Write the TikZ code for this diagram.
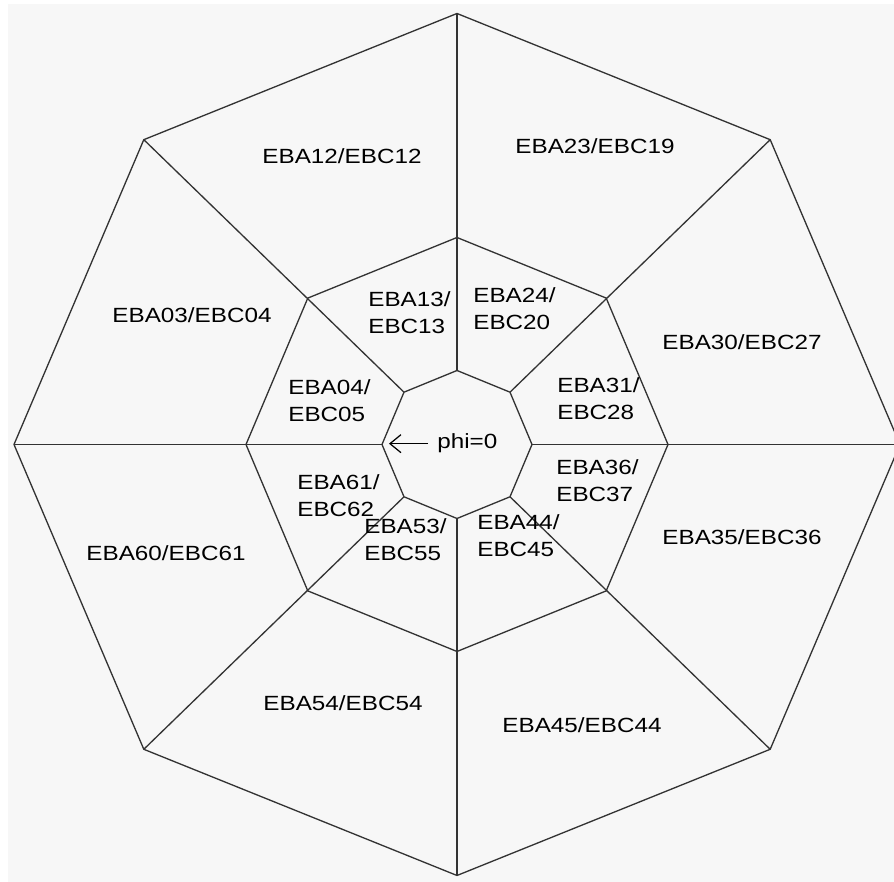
\documentclass[tikz,border=0pt]{standalone}
\usepackage{fontspec}
\setmainfont{Liberation Sans}[FakeStretch=1.18]
\usetikzlibrary{arrows.meta}

\begin{document}
\begin{tikzpicture}[x=0.02cm,y=0.02cm,
  cell/.style={draw=black!80,line width=0.75pt,line join=miter},
  lbl/.style={inner sep=0pt,font=\fontsize{11.7pt}{15.3pt}\selectfont},
  lbltwo/.style={lbl,align=left,anchor=west},
  arr/.style={-{Straight Barb[length=2.2mm,width=3.6mm]},line width=0.7pt}]
\useasboundingbox (0,0) rectangle (894,882);
\fill[white] (0,0) rectangle (894,882);
\fill[black!3] (8,0) rectangle (894,878);
\clip (0,0) rectangle (894,882);
\begin{scope}[shift={(457,437.5)}]
  \coordinate (o0) at (443,0);
  \coordinate (o45) at (313.2,304.8);
  \coordinate (o90) at (0,431);
  \coordinate (o135) at (-313.2,304.8);
  \coordinate (o180) at (-443,0);
  \coordinate (o225) at (-313.2,-304.8);
  \coordinate (o270) at (0,-431);
  \coordinate (o315) at (313.2,-304.8);
  \coordinate (m0) at (211,0);
  \coordinate (m45) at (149.2,146.4);
  \coordinate (m90) at (0,207);
  \coordinate (m135) at (-149.2,146.4);
  \coordinate (m180) at (-211,0);
  \coordinate (m225) at (-149.2,-146.4);
  \coordinate (m270) at (0,-207);
  \coordinate (m315) at (149.2,-146.4);
  \coordinate (i0) at (75,0);
  \coordinate (i45) at (53,52.3);
  \coordinate (i90) at (0,74);
  \coordinate (i135) at (-53,52.3);
  \coordinate (i180) at (-75,0);
  \coordinate (i225) at (-53,-52.3);
  \coordinate (i270) at (0,-74);
  \coordinate (i315) at (53,-52.3);
\end{scope}
\draw[cell] (o0) -- (o45) -- (o90) -- (o135) -- (o180) -- (o225) -- (o270) -- (o315) -- cycle;
\draw[cell] (m0) -- (m45) -- (m90) -- (m135) -- (m180) -- (m225) -- (m270) -- (m315) -- cycle;
\draw[cell] (i0) -- (i45) -- (i90) -- (i135) -- (i180) -- (i225) -- (i270) -- (i315) -- cycle;
\draw[cell] (i0) -- (o0);
\draw[cell] (i45) -- (o45);
\draw[cell] (i90) -- (o90);
\draw[cell] (i135) -- (o135);
\draw[cell] (i180) -- (o180);
\draw[cell] (i225) -- (o225);
\draw[cell] (i270) -- (o270);
\draw[cell] (i315) -- (o315);
\node[lbl] (eba12) at (342,726) {EBA12/EBC12};
\node[lbl] (eba23) at (595,736) {EBA23/EBC19};
\node[lbl] (eba03) at (192,567) {EBA03/EBC04};
\node[lbl] (eba30) at (742,540) {EBA30/EBC27};
\node[lbl] (eba60) at (166,329) {EBA60/EBC61};
\node[lbl] (eba35) at (742,345) {EBA35/EBC36};
\node[lbl] (eba54) at (343,179) {EBA54/EBC54};
\node[lbl] (eba45) at (582,157) {EBA45/EBC44};
\node[lbltwo] (eba13) at (368,569) {EBA13/\\EBC13};
\node[lbltwo] (eba24) at (473,573) {EBA24/\\EBC20};
\node[lbltwo] (eba04) at (288,481) {EBA04/\\EBC05};
\node[lbltwo] (eba31) at (557,483) {EBA31/\\EBC28};
\node[lbltwo] (eba61) at (297,386) {EBA61/\\EBC62};
\node[lbltwo] (eba36) at (556,401) {EBA36/\\EBC37};
\node[lbltwo] (eba53) at (364,342) {EBA53/\\EBC55};
\node[lbltwo] (eba44) at (477,346) {EBA44/\\EBC45};
\node[lbl,anchor=base west] (phi) at (437,433) {phi=0};
\draw[arr,shorten <=1.8mm,shorten >=1.4mm] (phi.west) -- (phi.west -| i180);
\end{tikzpicture}
\end{document}
